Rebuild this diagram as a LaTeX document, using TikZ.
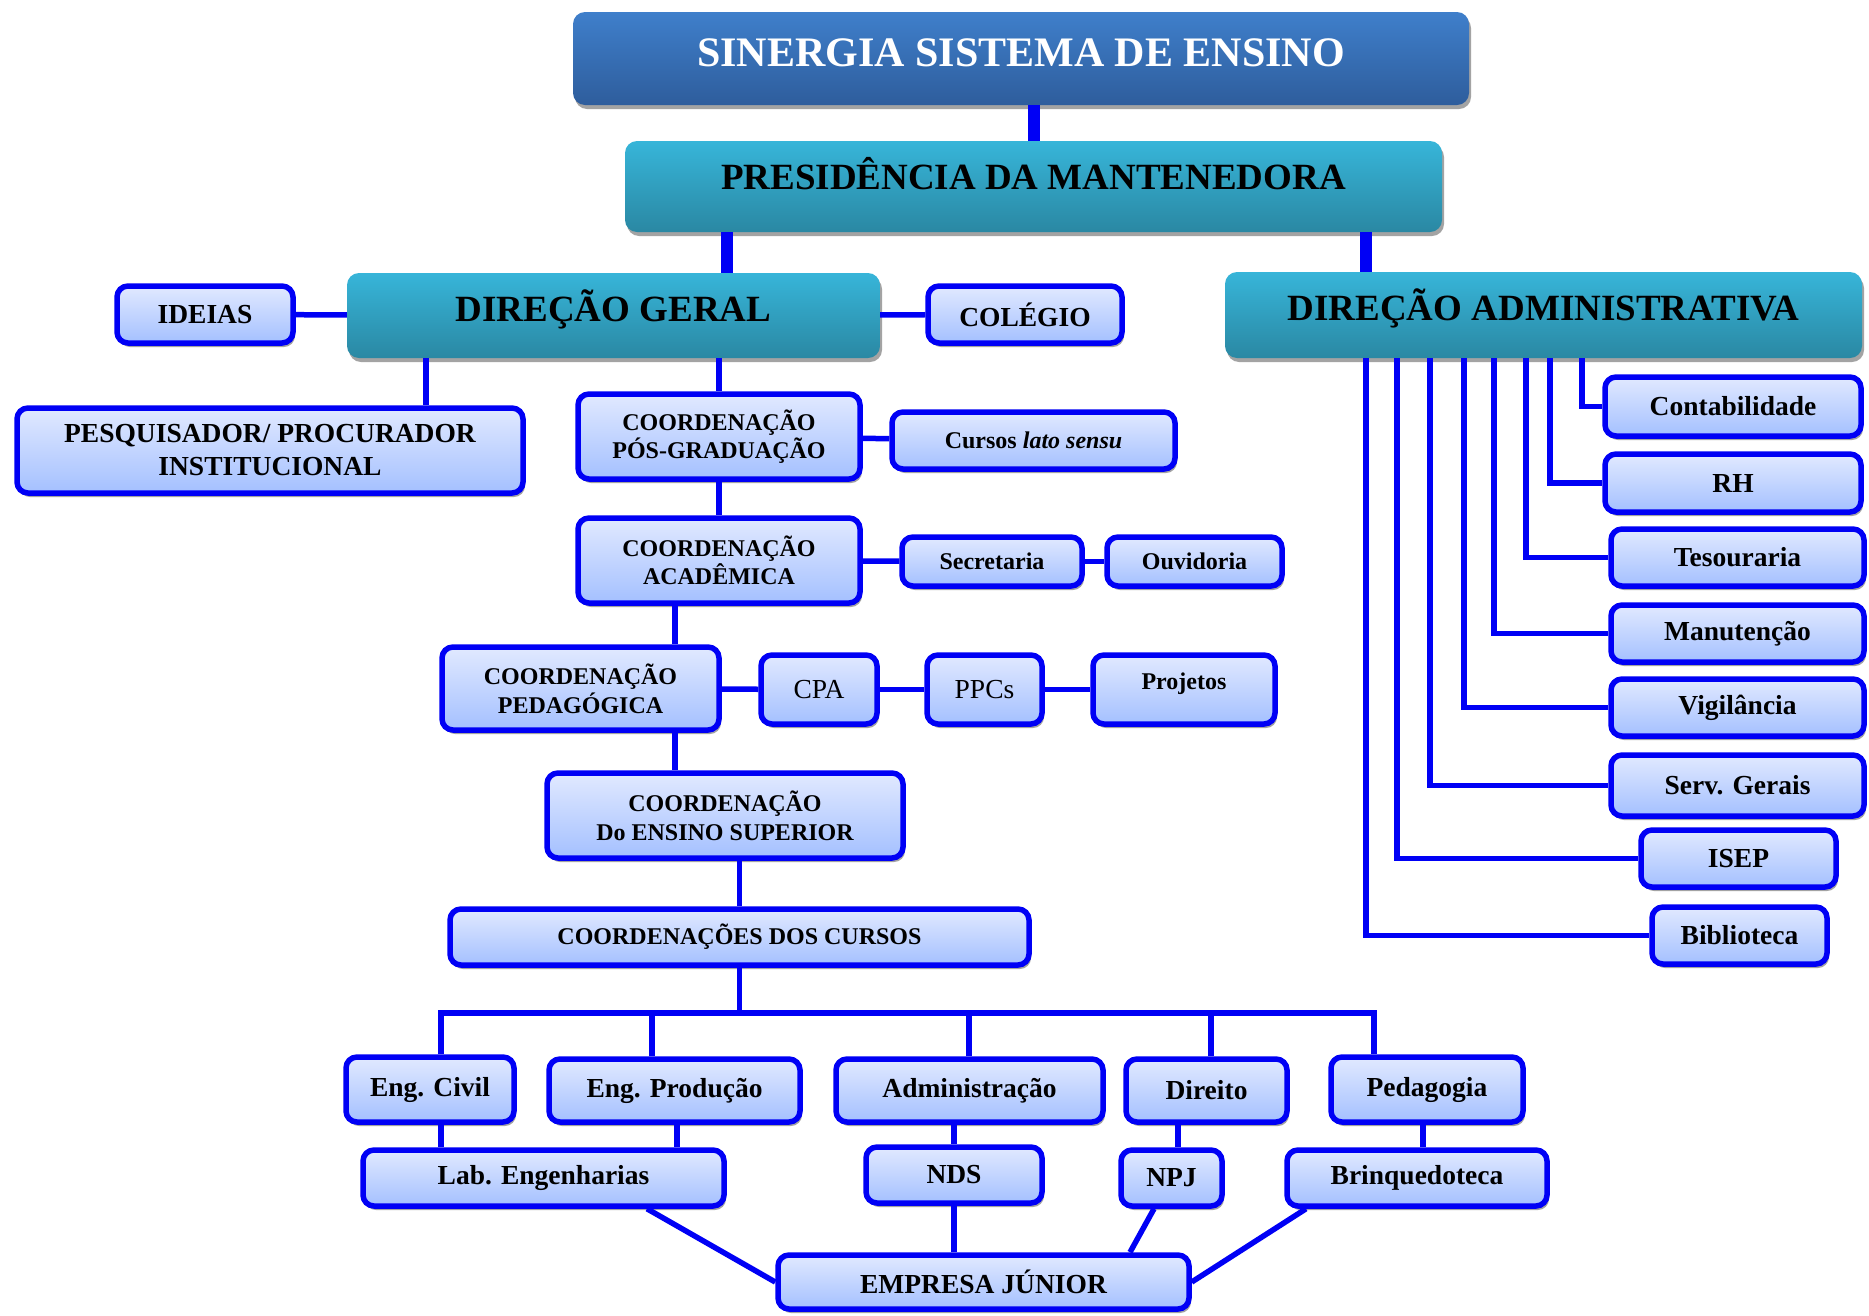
\documentclass[tikz,border=0pt]{standalone}
\usepackage{fontspec}
\setmainfont{Liberation Serif}
\usetikzlibrary{shadows}
\definecolor{azulA}{HTML}{3F7FCB}
\definecolor{azulB}{HTML}{2E5D9C}
\definecolor{cianoA}{HTML}{37B5D9}
\definecolor{cianoB}{HTML}{2A88A3}
\definecolor{claroA}{HTML}{E1E9FF}
\definecolor{claroB}{HTML}{A4C0FF}
\definecolor{fioazul}{HTML}{0000F5}

\begin{document}
\begin{tikzpicture}[x=1pt,y=-1pt,
	sombra/.style={drop shadow={shadow xshift=2pt,shadow yshift=-4pt,fill=black!40,opacity=.9}},
	tam/.style 2 args={minimum width=#1,minimum height=#2},
	topo/.style={rounded corners=12pt,top color=azulA,bottom color=azulB,text=white,sombra,inner sep=0,
		font=\bfseries\fontsize{42}{50}\selectfont,text height=28pt,text depth=12pt},
	cabeca/.style={rounded corners=12pt,top color=cianoA,bottom color=cianoB,sombra,inner sep=0,
		font=\bfseries\fontsize{37}{44}\selectfont,text height=25pt,text depth=14pt},
	caixa/.style={rounded corners=11pt,top color=claroA,bottom color=claroB,draw=fioazul,line width=5.5pt,sombra,
		inner sep=0,align=center,font=\bfseries\fontsize{27.5}{33}\selectfont},
	peq/.style={font=\bfseries\fontsize{24}{28.6}\selectfont},
	fino/.style={font=\fontsize{27.5}{33}\selectfont},
	fio/.style={draw=fioazul,line width=5.5pt},
	grosso/.style={draw=fioazul,line width=12pt},
]
\useasboundingbox (0,0) rectangle (1869,1315);

\node[topo,tam={896}{93}] (sinergia) at (1021,58.5) {SINERGIA SISTEMA DE ENSINO};
\node[cabeca,tam={817}{91},text depth=19pt] (pres) at (1033.5,186.5) {PRESIDÊNCIA DA MANTENEDORA};
\node[cabeca,tam={533}{85}] (dg) at (613.5,315.5) {DIREÇÃO GERAL};
\node[cabeca,tam={637}{86}] (da) at (1543.5,315) {DIREÇÃO ADMINISTRATIVA};

\node[caixa,tam={176}{57}] (ideias) at (205,314.5) {IDEIAS};
\node[caixa,tam={194}{57}] (colegio) at (1025,314.5) {COLÉGIO};
\node[caixa,tam={506}{85}] (pesq) at (270,450.5) {PESQUISADOR/ PROCURADOR\\INSTITUCIONAL};
\node[caixa,peq,tam={282}{85}] (pos) at (719,436.5) {COORDENAÇÃO\\PÓS-GRADUAÇÃO};
\node[caixa,peq,tam={283}{57}] (lato) at (1033.5,440.5) {Cursos \textit{lato sensu}};
\node[caixa,peq,tam={282}{85}] (acad) at (719,560.5) {COORDENAÇÃO\\ACADÊMICA};
\node[caixa,peq,tam={180}{49}] (secr) at (992,561.5) {Secretaria};
\node[caixa,peq,tam={175}{49}] (ouv) at (1194.5,561.5) {Ouvidoria};
\node[caixa,peq,tam={277}{83}] (ped) at (580.5,688.5) {COORDENAÇÃO\\PEDAGÓGICA};
\node[caixa,fino,tam={116}{69}] (cpa) at (819,689.5) {CPA};
\node[caixa,fino,tam={115}{69}] (ppcs) at (984.5,689.5) {PPCs};
\node[caixa,peq,tam={182}{69},text depth=16pt] (proj) at (1184,689.5) {Projetos};
\node[caixa,peq,tam={356}{85}] (sup) at (725,815.5) {COORDENAÇÃO\\Do ENSINO SUPERIOR};
\node[caixa,peq,tam={579}{56}] (cursos) at (739.5,937) {COORDENAÇÕES DOS CURSOS};

\node[caixa,tam={168}{65}] (civil) at (430,1089.5) {Eng. Civil};
\node[caixa,tam={251}{63}] (prod) at (674.5,1090.5) {Eng. Produção};
\node[caixa,tam={267}{63}] (adm) at (969.5,1090.5) {Administração};
\node[caixa,tam={161}{63}] (direito) at (1206.5,1090.5) {Direito};
\node[caixa,tam={192}{65}] (pedag) at (1427,1089.5) {Pedagogia};
\node[caixa,tam={361}{56}] (lab) at (543.5,1178) {Lab. Engenharias};
\node[caixa,tam={176}{56}] (nds) at (954,1175) {NDS};
\node[caixa,tam={101}{56}] (npj) at (1171.5,1178) {NPJ};
\node[caixa,tam={260}{56}] (brinq) at (1417,1178) {Brinquedoteca};
\node[caixa,tam={411}{54}] (emp) at (983.5,1282) {EMPRESA JÚNIOR};

\node[caixa,tam={256}{59}] (cont) at (1733,406.5) {Contabilidade};
\node[caixa,tam={256}{58}] (rh) at (1733,483) {RH};
\node[caixa,tam={253}{57}] (tes) at (1737.5,557.5) {Tesouraria};
\node[caixa,tam={253}{57}] (man) at (1737.5,633.5) {Manutenção};
\node[caixa,tam={253}{57}] (vig) at (1737.5,707.5) {Vigilância};
\node[caixa,tam={253}{61}] (serv) at (1737.5,785.5) {Serv. Gerais};
\node[caixa,tam={195}{57}] (isep) at (1738.5,858.5) {ISEP};
\node[caixa,tam={175}{57}] (bib) at (1739.5,935.5) {Biblioteca};

\coordinate (busl) at (441,1013);
\coordinate (busr) at (1374,1013);

\draw[grosso] (pres.north) -- (pres.north |- sinergia.south);
\draw[grosso] (pres.south -| 727,0) -- (dg.north -| 727,0);
\draw[grosso] (pres.south -| 1366,0) -- (da.north -| 1366,0);

\draw[fio] (ideias) -- (dg);
\draw[fio] (dg) -- (colegio);
\draw[fio] (dg.south -| 426,0) -- (pesq.north -| 426,0);
\draw[fio] (dg.south -| pos.north) -- (pos.north);
\draw[fio] (pos) -- (lato);
\draw[fio] (pos) -- (acad);
\draw[fio] (acad) -- (secr);
\draw[fio] (secr) -- (ouv);
\draw[fio] (acad.south -| 675,0) -- (ped.north -| 675,0);
\draw[fio] (ped) -- (cpa);
\draw[fio] (cpa) -- (ppcs);
\draw[fio] (ppcs) -- (proj);
\draw[fio] (ped.south -| 675,0) -- (sup.north -| 675,0);
\draw[fio] (cursos.north) -- (cursos.north |- sup.south);

\draw[fio] (cursos.south) -- (cursos.south |- busl);
\draw[fio] (civil.north -| busl) -- (busl) -- (busr) -- (pedag.north -| busr);
\foreach \n/\x in {prod/652,adm/969,direito/1211}
	\draw[fio] (\n.north -| \x,0) -- (busl -| \x,0);

\draw[fio] (civil.south -| busl) -- (lab.north -| busl);
\draw[fio] (prod.south -| 677,0) -- (lab.north -| 677,0);
\draw[fio] (adm.south -| nds.north) -- (nds.north);
\draw[fio] (direito.south -| 1178,0) -- (npj.north -| 1178,0);
\draw[fio] (pedag.south -| 1423,0) -- (brinq.north -| 1423,0);
\draw[fio] (lab.south -| 647,0) -- (emp.west);
\draw[fio] (nds.south) -- (nds.south |- emp.north);
\draw[fio] (npj.south -| 1154,0) -- (emp.north -| 1130,0);
\draw[fio] (brinq.south -| 1306,0) -- (emp.east);

\foreach \n/\x in {cont/1582,rh/1550,tes/1526,man/1494,vig/1464,serv/1430,isep/1397,bib/1366}
	\draw[fio] (da.south -| \x,0) |- (\n.west);

\end{tikzpicture}
\end{document}
